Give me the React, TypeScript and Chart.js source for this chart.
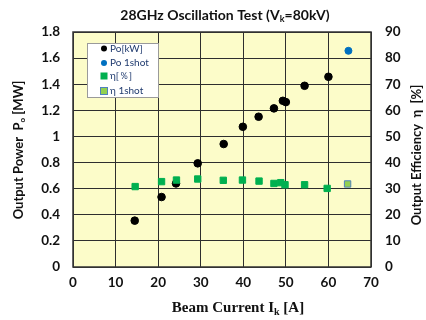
import React, { useEffect, useRef } from "react";
import { Chart, registerables } from "chart.js";

Chart.register(...registerables);

const poCurrent = [14.5, 20.8, 24.2, 29.3, 35.4, 39.9, 43.6, 47.2, 49.3, 50.0, 54.4, 60.0];
const poPower = [0.355, 0.536, 0.64, 0.794, 0.942, 1.074, 1.151, 1.215, 1.273, 1.263, 1.388, 1.457];
const po1shotCurrent = [64.7];
const po1shotPower = [1.656];
const etaCurrent = [14.6, 20.8, 24.3, 29.3, 35.3, 39.8, 43.7, 47.2, 48.8, 49.8, 54.4, 59.7];
const etaValues = [30.8, 32.7, 33.3, 33.7, 33.2, 33.3, 32.9, 32.0, 32.3, 31.5, 31.5, 30.1];
const eta1shotCurrent = [64.5];
const eta1shotValues = [31.8];

const legendLabels = ["Po[kW]", "Po 1shot", "η[％]", "η 1shot"];
const titleParts = [{ t: "28GHz Oscillation Test (V" }, { t: "k", sub: true }, { t: "=80kV)" }];
const leftTitleParts = [{ t: "Output Power  P" }, { t: "o", sub: true }, { t: " [MW]" }];
const rightTitleParts = [{ t: "Output Efficiency  η  [%]" }];
const bottomTitleParts = [{ t: "Beam Current I" }, { t: "k", sub: true }, { t: " [A]" }];

type Part = { t: string; sub?: boolean };

function drawRich(
  ctx: CanvasRenderingContext2D,
  parts: Part[],
  cx: number,
  cy: number,
  size: number,
  family: string,
  rotate = 0
) {
  ctx.save();
  ctx.translate(cx, cy);
  if (rotate) ctx.rotate(rotate);
  const main = `bold ${size}px ${family}`;
  const sub = `bold ${Math.round(size * 0.65)}px ${family}`;
  let total = 0;
  for (const p of parts) {
    ctx.font = p.sub ? sub : main;
    total += ctx.measureText(p.t).width;
  }
  let x = -total / 2;
  ctx.textBaseline = "middle";
  ctx.textAlign = "left";
  ctx.fillStyle = "#111";
  for (const p of parts) {
    ctx.font = p.sub ? sub : main;
    ctx.fillText(p.t, x, p.sub ? size * 0.28 : 0);
    x += ctx.measureText(p.t).width;
  }
  ctx.restore();
}

const decorPlugin = {
  id: "decor",
  beforeDraw(chart: any) {
    const { ctx, chartArea: a } = chart;
    ctx.save();
    ctx.fillStyle = "#ffffff";
    ctx.fillRect(0, 0, chart.width, chart.height);
    ctx.fillStyle = "#FCFCC9";
    ctx.fillRect(a.left, a.top, a.right - a.left, a.bottom - a.top);
    ctx.restore();
  },
  afterDraw(chart: any) {
    const { ctx, chartArea: a } = chart;
    ctx.save();
    ctx.strokeStyle = "#333";
    ctx.lineWidth = 1.5;
    ctx.strokeRect(a.left, a.top, a.right - a.left, a.bottom - a.top);

    // legend box
    const bx = 87, by = 43, bw = 71, bh = 54;
    ctx.fillStyle = "#ffffff";
    ctx.fillRect(bx, by, bw, bh);
    ctx.strokeStyle = "#9a9a9a";
    ctx.lineWidth = 1;
    ctx.strokeRect(bx + 0.5, by + 0.5, bw, bh);
    const rows = [48.5, 63, 76, 91];
    const mx = 104;
    ctx.font = "10px Lato";
    ctx.textBaseline = "middle";
    ctx.textAlign = "left";
    rows.forEach((ry, i) => {
      if (i === 0 || i === 1) {
        ctx.beginPath();
        ctx.arc(mx, ry, 3, 0, Math.PI * 2);
        ctx.fillStyle = i === 0 ? "#000" : "#0070C0";
        ctx.fill();
      } else if (i === 2) {
        ctx.fillStyle = "#00B050";
        ctx.fillRect(mx - 3.5, ry - 3.5, 7, 7);
      } else {
        ctx.fillStyle = "#92D050";
        ctx.fillRect(mx - 3.5, ry - 3.5, 7, 7);
        ctx.strokeStyle = "#4F81BD";
        ctx.strokeRect(mx - 3.5, ry - 3.5, 7, 7);
      }
      ctx.fillStyle = "#1F3A6E";
      ctx.fillText(legendLabels[i], mx + 6, ry);
    });
    ctx.restore();

    drawRich(ctx, titleParts, 225, 15, 14, "Lato");
    drawRich(ctx, leftTitleParts, 19, 150, 13, "Lato", -Math.PI / 2);
    drawRich(ctx, rightTitleParts, 417, 155, 13, "Lato", -Math.PI / 2);
    drawRich(ctx, bottomTitleParts, 238, 308, 15, "'Liberation Serif'");
  },
};

export default function App() {
  const ref = useRef<HTMLCanvasElement>(null);
  useEffect(() => {
    if (!ref.current) return;
    const tickFont = { family: "Lato", size: 13.5, weight: "bold" as const };
    const chart = new Chart(ref.current, {
      type: "scatter",
      data: {
        datasets: [
          {
            label: legendLabels[0],
            data: poCurrent.map((x, i) => ({ x, y: poPower[i] })),
            backgroundColor: "#000",
            borderColor: "#000",
            pointRadius: 3.8,
            yAxisID: "y",
            order: 3,
          },
          {
            label: legendLabels[1],
            data: po1shotCurrent.map((x, i) => ({ x, y: po1shotPower[i] })),
            backgroundColor: "#0070C0",
            borderColor: "#0070C0",
            pointRadius: 3.5,
            yAxisID: "y",
            order: 2,
          },
          {
            label: legendLabels[2],
            data: etaCurrent.map((x, i) => ({ x, y: etaValues[i] })),
            backgroundColor: "#00B050",
            borderColor: "#00B050",
            pointStyle: "rect",
            pointRadius: 4.5,
            yAxisID: "y2",
            order: 1,
          },
          {
            label: legendLabels[3],
            data: eta1shotCurrent.map((x, i) => ({ x, y: eta1shotValues[i] })),
            backgroundColor: "#92D050",
            borderColor: "#4F81BD",
            borderWidth: 1,
            pointStyle: "rect",
            pointRadius: 4.5,
            yAxisID: "y2",
            order: 0,
          },
        ],
      },
      options: {
        animation: false,
        responsive: false,
        maintainAspectRatio: false,
        layout: { padding: { top: 32, left: 0, right: 0, bottom: 0 } },
        plugins: {
          legend: { display: false },
          tooltip: { enabled: false },
          title: { display: false },
        },
        scales: {
          x: {
            type: "linear",
            min: 0,
            max: 70,
            ticks: { stepSize: 10, font: tickFont, color: "#111", padding: 8 },
            grid: { color: "#2e2e2e", lineWidth: 1, drawTicks: false },
            border: { display: false },
            afterFit(scale: any) {
              scale.height = 53;
            },
          },
          y: {
            type: "linear",
            position: "left",
            min: 0,
            max: 1.8,
            ticks: {
              stepSize: 0.2,
              font: tickFont,
              color: "#111",
              padding: 13,
              callback: (v: any) => String(Number(Number(v).toFixed(1))),
            },
            grid: { color: "#2e2e2e", lineWidth: 1, drawTicks: false },
            border: { display: false },
            afterFit(scale: any) {
              scale.width = 73;
            },
          },
          y2: {
            type: "linear",
            position: "right",
            min: 0,
            max: 90,
            ticks: { stepSize: 10, font: tickFont, color: "#111", padding: 14 },
            grid: { drawOnChartArea: false, drawTicks: false },
            border: { display: false },
            afterFit(scale: any) {
              scale.width = 55;
            },
          },
        },
      },
      plugins: [decorPlugin],
    });
    return () => chart.destroy();
  }, []);
  return (
    <div style={{ position: "fixed", left: 0, top: 0, width: 426, height: 320, background: "#fff" }}>
      <canvas ref={ref} width={426} height={320} style={{ width: 426, height: 320 }} />
    </div>
  );
}
